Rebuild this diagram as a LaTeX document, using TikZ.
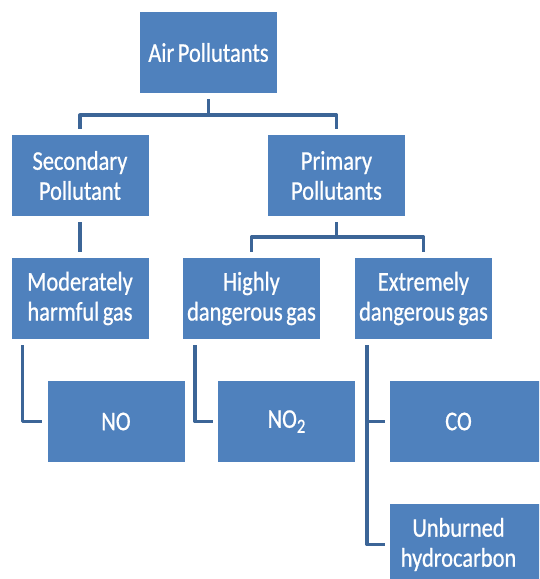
\documentclass[tikz,border=0pt]{standalone}
\usepackage{fontspec}
\setmainfont{Carlito}[FakeStretch=0.83,WordSpace=0.7,FakeBold=0.7]
\usetikzlibrary{calc}
\definecolor{boxblue}{HTML}{4F81BD}
\definecolor{linkblue}{HTML}{3C6597}
\begin{document}
\begin{tikzpicture}[x=1pt,y=-1pt,
  box/.style={fill=boxblue,draw=none,minimum width=137pt,minimum height=81pt,inner sep=2pt,
    text=white,align=center,font=\fontsize{27}{30}\selectfont},
  conn/.style={draw=linkblue,line width=3.5pt,line join=round}]
\useasboundingbox (0,0) rectangle (539,579);
\clip (0,0) rectangle (539,579);
\node[box] (air)  at (208.5,52.5)  {Air Pollutants};
\node[box] (sec)  at (80,175.5)    {Secondary\\Pollutant};
\node[box] (prim) at (336.5,175.5) {Primary\\Pollutants};
\node[box] (mod)  at (80,298.5)    {Moderately\\harmful gas};
\node[box] (high) at (251.5,298.5) {Highly\\dangerous gas};
\node[box] (ext)  at (423.5,298.5) {Extremely\\dangerous gas};
\node[box] (no)   at (116,421.5)   {NO};
\node[box] (no2)  at (286.5,421.5) {NO{\fontsize{20}{20}\selectfont\raisebox{-5pt}{2}}};
\node[box] (co)   at (458.5,421.5) {CO};
\node[box] (hc)   at (458.5,544.5) {Unburned\\hydrocarbon};
\fill[boxblue] (co.north east) rectangle ($(co.south east)+(20,0)$);
\fill[boxblue] (hc.north east) rectangle ($(hc.south east)+(20,0)$);
% connectors
\draw[conn] ($(air.south)+(0,6)$) -- ++(0,16) coordinate (j1);
\draw[conn] ($(sec.north)+(0,-6)$) |- (j1) -| ($(prim.north)+(0,-6)$);
\draw[conn] ($(sec.south)+(0,6)$) -- ($(mod.north)+(0,-6)$);
\draw[conn] ($(prim.south)+(0,6)$) -- ++(0,15) coordinate (j2);
\draw[conn] ($(high.north)+(0,-6)$) |- (j2) -| ($(ext.north)+(0,-6)$);
\draw[conn] ($(mod.south west)+(11,6)$) |- ($(no.west)+(-5,0)$);
\draw[conn] ($(high.south west)+(12,6)$) |- ($(no2.west)+(-5,0)$);
\coordinate (e0) at ($(ext.south west)+(12,6)$);
\draw[conn] (e0) |- ($(hc.west)+(-5,0)$);
\draw[conn] (e0 |- co.west) -- ($(co.west)+(-5,0)$);
\end{tikzpicture}
\end{document}
